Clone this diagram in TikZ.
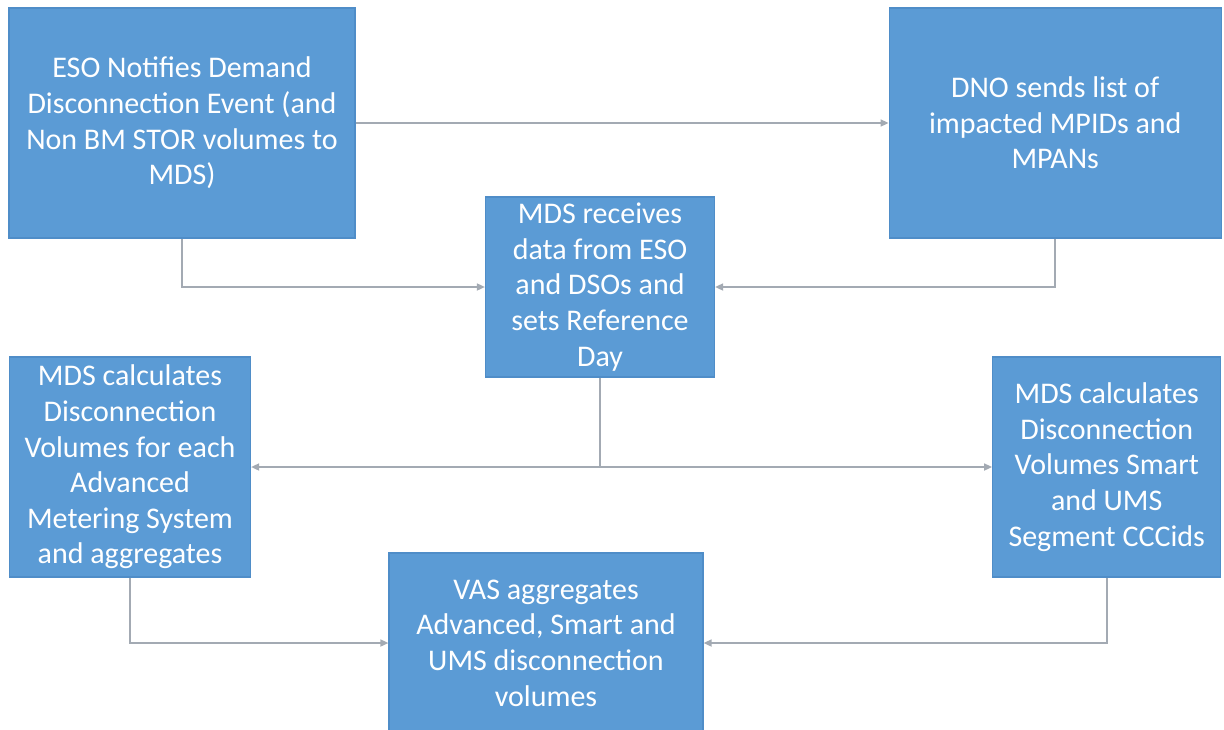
\documentclass[tikz,border=0pt]{standalone}
\usepackage{fontspec}
\setmainfont{Carlito}
\usetikzlibrary{arrows.meta,positioning,calc}

\definecolor{boxblue}{HTML}{5B9BD5}
\definecolor{boxedge}{HTML}{4F8DC8}
\definecolor{linkgray}{HTML}{A3AAB3}

\begin{document}
\begin{tikzpicture}[
  x=0.5pt, y=-0.5pt,
  font=\fontsize{15}{17.8}\selectfont,
  >=Latex,
  line/.style={-{Triangle[length=4pt,width=3.5pt]}, draw=linkgray, line width=0.8pt},
  link/.style={draw=linkgray, line width=0.8pt},
  block/.style={
    draw=boxedge,
    line width=0.6pt,
    fill=boxblue,
    text=white,
    align=center,
    inner sep=0pt
  }
]

\clip (0,0) rectangle (1224,729);

\node[block, minimum width=173pt, minimum height=115pt] (eso) at (182,123)
  {ESO Notifies Demand\\Disconnection Event (and\\Non BM STOR volumes to\\MDS)};
\node[block, minimum width=166pt, minimum height=115pt, right=266.5pt of eso] (dno)
  {DNO sends list of\\impacted MPIDs and\\MPANs};

\node[block, minimum width=114.5pt, minimum height=90pt] (mds) at (600,287)
  {MDS receives\\data from ESO\\and DSOs and\\sets Reference\\Day};

\node[block, minimum width=120.5pt, minimum height=110pt] (advcalc) at (130,467)
  {MDS calculates\\Disconnection\\Volumes for each\\Advanced\\Metering System\\and aggregates};
\node[block, minimum width=114pt, minimum height=110pt, right=370.5pt of advcalc] (smartcalc)
  {MDS calculates\\Disconnection\\Volumes Smart\\and UMS\\Segment CCCids};

\node[block, minimum width=157pt, minimum height=90pt] (vas) at (546,643)
  {VAS aggregates\\Advanced, Smart and\\UMS disconnection\\volumes};

\coordinate (split) at (mds.south |- advcalc.east);

\draw[line] (eso) -- (dno);
\draw[line] (eso) |- (mds);
\draw[line] (dno) |- (mds);

\draw[link] (mds) -- (split);
\draw[line] (split) -- (advcalc);
\draw[line] (split) -- (smartcalc);

\draw[line] (advcalc) |- (vas);
\draw[line] (smartcalc) |- (vas);

\end{tikzpicture}
\end{document}
